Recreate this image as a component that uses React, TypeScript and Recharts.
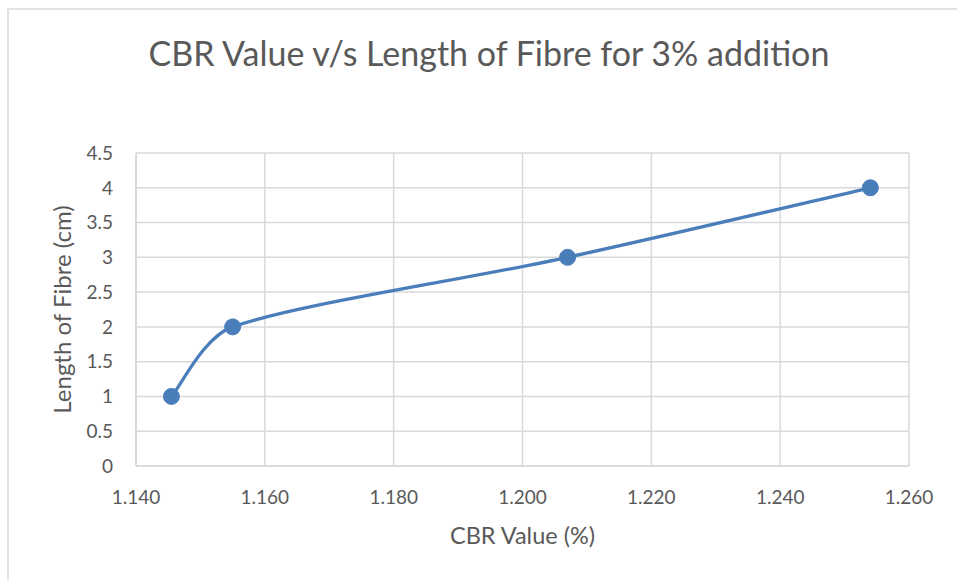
import React from 'react';
import { LineChart, Line, XAxis, YAxis, CartesianGrid } from 'recharts';

const cbrValues = [1.1455, 1.155, 1.207, 1.254];
const fibreLengths = [1, 2, 3, 4];
const xTicks = [1.14, 1.16, 1.18, 1.2, 1.22, 1.24, 1.26];
const yTicks = [0, 0.5, 1, 1.5, 2, 2.5, 3, 3.5, 4, 4.5];

const data = cbrValues.map((x, i) => ({ x, y: fibreLengths[i] }));

const FONT = 'Lato, "Open Sans", sans-serif';
const TEXT = '#595959';
const GRID = '#d9d9d9';
const BLUE = '#4a7ebb';

// Excel-like smoothed line: Catmull-Rom Bezier (1/6 tangents), handles clamped to 1/3 of segment length
const excelCurve = (context: any) => {
  let pts: number[][] = [];
  const clamp = (hx: number, hy: number, d: number) => {
    const len = Math.hypot(hx, hy);
    const max = d / 3;
    if (len > max && len > 0) {
      const s = max / len;
      return [hx * s, hy * s];
    }
    return [hx, hy];
  };
  return {
    areaStart() {},
    areaEnd() {},
    lineStart() {
      pts = [];
    },
    lineEnd() {
      if (pts.length === 0) return;
      context.moveTo(pts[0][0], pts[0][1]);
      for (let i = 0; i < pts.length - 1; i++) {
        const p0 = pts[i - 1] || pts[i];
        const p1 = pts[i];
        const p2 = pts[i + 1];
        const p3 = pts[i + 2] || pts[i + 1];
        const d = Math.hypot(p2[0] - p1[0], p2[1] - p1[1]);
        const h1 = clamp((p2[0] - p0[0]) / 6, (p2[1] - p0[1]) / 6, d);
        const h2 = clamp((p3[0] - p1[0]) / 6, (p3[1] - p1[1]) / 6, d);
        context.bezierCurveTo(p1[0] + h1[0], p1[1] + h1[1], p2[0] - h2[0], p2[1] - h2[1], p2[0], p2[1]);
      }
    },
    point(x: number, y: number) {
      pts.push([+x, +y]);
    },
  };
};

export default function App() {
  return (
    <div style={{ position: 'absolute', left: 0, top: 0, width: 957, height: 580, background: '#fff', overflow: 'hidden', fontFamily: FONT }}>
      <div style={{ position: 'absolute', left: 7, top: 8, width: 1000, height: 700, border: '2px solid #e3e3e3', boxSizing: 'border-box' }} />
      <div style={{ position: 'absolute', left: 0, top: 32, width: 978, textAlign: 'center', fontSize: 34, color: TEXT, fontFamily: FONT, lineHeight: '42px' }}>
        CBR Value v/s Length of Fibre for 3% addition
      </div>
      <div style={{ position: 'absolute', left: 0, top: 0 }}>
        <LineChart width={957} height={580} data={data} margin={{ top: 153, right: 48, bottom: 24, left: 40 }}>
          <CartesianGrid stroke={GRID} strokeWidth={1.5} />
          <XAxis
            dataKey="x"
            type="number"
            domain={[1.14, 1.26]}
            ticks={xTicks}
            tickFormatter={(v: number) => v.toFixed(3)}
            axisLine={{ stroke: GRID, strokeWidth: 1.5 }}
            tickLine={false}
            tickSize={0}
            tickMargin={25}
            height={90}
            tick={{ fill: TEXT, fontSize: 19, fontFamily: FONT }}
            label={{ value: 'CBR Value (%)', position: 'insideBottom', offset: 12, fill: TEXT, fontSize: 23.5, fontFamily: FONT }}
            interval={0}
            allowDataOverflow
          />
          <YAxis
            type="number"
            domain={[0, 4.5]}
            ticks={yTicks}
            axisLine={{ stroke: GRID, strokeWidth: 1.5 }}
            tickLine={false}
            tickSize={0}
            tickMargin={23}
            width={96}
            tick={{ fill: TEXT, fontSize: 19, fontFamily: FONT }}
            label={{ value: 'Length of Fibre (cm)', angle: -90, position: 'center', dx: -26, fill: TEXT, fontSize: 24, fontFamily: FONT }}
            interval={0}
          />
          <Line
            dataKey="y"
            type={excelCurve as any}
            stroke={BLUE}
            strokeWidth={3.3}
            dot={{ r: 8, fill: BLUE, stroke: BLUE, strokeWidth: 1 }}
            isAnimationActive={false}
          />
        </LineChart>
      </div>
    </div>
  );
}
